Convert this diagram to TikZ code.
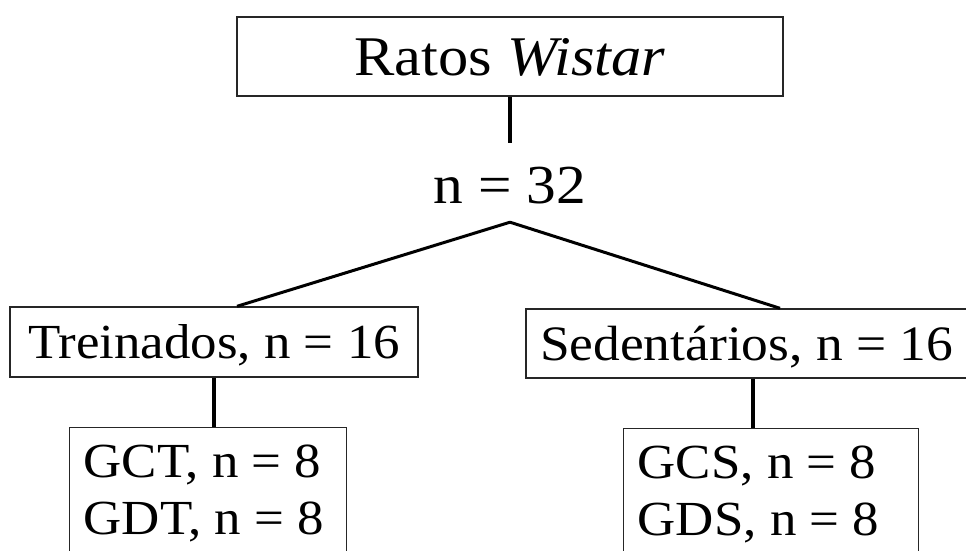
\documentclass[tikz,border=0pt]{standalone}
\usepackage{fontspec}
\setmainfont{Liberation Serif}
\usepackage{graphicx}

% texto um pouco alargado, como no original
\newcommand{\largo}[1]{\scalebox{1.08}[1]{#1}}

\begin{document}
\begin{tikzpicture}[x=1pt, y=-1pt,
	caixa/.style={draw=black!85, line width=1.4pt, inner sep=0pt},
	ramo/.style={line width=3pt, line join=round},
	haste/.style={line width=4pt}]
	% parâmetros
	\def\W{966} % largura da figura
	\def\H{550} % altura da figura

	% moldura
	\useasboundingbox (0,0) rectangle (\W,\H);

	% topo
	\node[caixa, minimum width=546pt, minimum height=79pt, text height=37pt, text depth=0pt,
		font=\fontsize{56}{60}\selectfont] (ratos) at (510,56.5) {\largo{Ratos \textit{Wistar}}};
	\node[inner xsep=0pt, inner ysep=19pt, text height=41pt, text depth=0pt,
		font=\fontsize{55}{60}\selectfont] (total) at (510,182.5) {\largo{n = 32}};

	% grupos
	\node[caixa, minimum width=408pt, minimum height=70pt, text height=33pt, text depth=0pt,
		font=\fontsize{49}{55}\selectfont] (trein) at (214,342) {\largo{Treinados, n = 16}};
	\node[caixa, inner xsep=14pt, minimum height=69pt, text height=33pt, text depth=0pt,
		font=\fontsize{49.5}{55}\selectfont] (sedent) at (753,343.5)
		{\makebox[426pt][l]{\largo{Sedentários, n = 16}}};

	% subgrupos (cortados embaixo)
	\node[caixa, anchor=north west, align=left, inner xsep=14pt, inner ysep=17pt,
		font=\fontsize{49}{57}\selectfont] (gct) at (69,427)
		{\makebox[249pt][l]{\largo{GCT, n = 8}}\\ \largo{GDT, n = 8}};
	\node[caixa, anchor=north west, align=left, inner xsep=14pt, inner ysep=17pt,
		font=\fontsize{49}{57}\selectfont] (gcs) at (623,428)
		{\makebox[267pt][l]{\largo{GCS, n = 8}}\\ \largo{GDS, n = 8}};

	% ligações
	\draw[haste] (ratos.south) -- (total.north);
	\draw[ramo] ([xshift=23pt]trein.north) -- (total.south) -- ([xshift=27pt]sedent.north);
	\draw[haste] (trein.south) -- (trein.south |- gct.north);
	\draw[haste] (sedent.south) -- (sedent.south |- gcs.north);
\end{tikzpicture}
\end{document}
